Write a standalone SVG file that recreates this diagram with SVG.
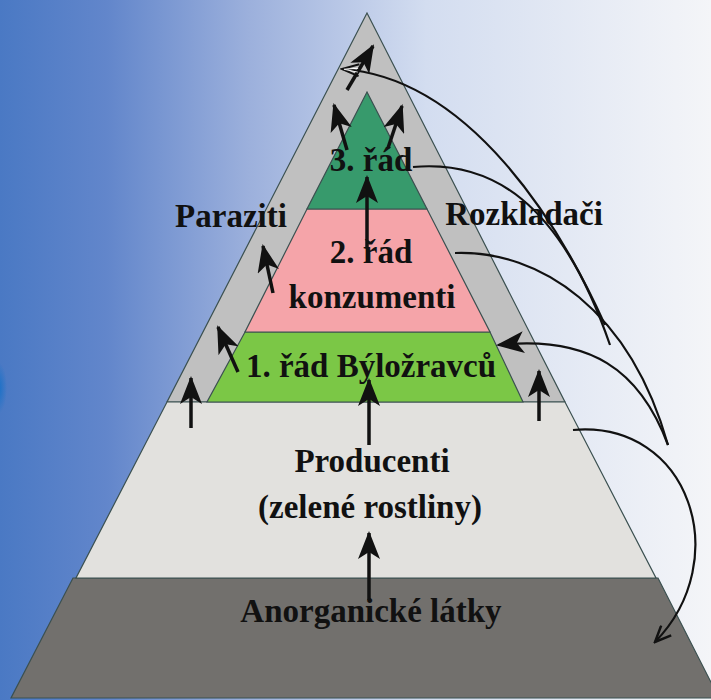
<svg xmlns="http://www.w3.org/2000/svg" width="711" height="700" viewBox="0 0 711 700">
<defs>
<linearGradient id="bg" x1="0" y1="0" x2="1" y2="0">
<stop offset="0" stop-color="#4a79c4"/>
<stop offset="0.15" stop-color="#6286cb"/>
<stop offset="0.35" stop-color="#9cb0dc"/>
<stop offset="0.6" stop-color="#d3ddf0"/>
<stop offset="1" stop-color="#f4f5f8"/>
</linearGradient>
<radialGradient id="spot" cx="0.5" cy="0.5" r="0.5">
<stop offset="0" stop-color="#1570c8"/>
<stop offset="1" stop-color="#1570c8" stop-opacity="0"/>
</radialGradient>
<marker id="ah" viewBox="0 0 28 22" refX="26" refY="11" markerWidth="28" markerHeight="22" markerUnits="userSpaceOnUse" orient="auto">
<path d="M0,0 L28,11 L0,22 L7,11 z" fill="#111"/>
</marker>
<marker id="open" viewBox="0 0 20 16" refX="18" refY="8" markerWidth="20" markerHeight="16" markerUnits="userSpaceOnUse" orient="auto">
<path d="M2,1 L18,8 L2,15" fill="none" stroke="#111" stroke-width="2.5"/>
</marker>
<marker id="apexhead" viewBox="0 0 20 14" refX="18" refY="7" markerWidth="20" markerHeight="14" markerUnits="userSpaceOnUse" orient="auto">
<path d="M1,1 L18,7 L1,13" fill="none" stroke="#111" stroke-width="2"/>
<path d="M2,5 L16,7 L2,9" fill="none" stroke="#fff" stroke-width="1"/>
</marker>
</defs>
<style>
.lbl{font-family:"Liberation Serif","Times New Roman",serif;font-weight:bold;font-size:33px;fill:#111;text-anchor:middle}
.edge{stroke:#3b5050;stroke-width:1.2}
.shaft{stroke:#111;stroke-width:3.5;fill:none}
.curve{stroke:#111;stroke-width:2.2;fill:none}
</style>
<rect x="0" y="0" width="711" height="700" fill="url(#bg)"/>
<ellipse cx="-2" cy="388" rx="9" ry="26" fill="url(#spot)"/>

<g id="outer-pyramid">
<polygon class="edge" points="367,13 167,402 565,402" fill="#c0c0c0"/>
</g>
<g id="anorganicke-latky">
<polygon class="edge" points="73,578 658,578 719,698 11,698" fill="#72706d"/>
<text class="lbl" x="371" y="622">Anorganické látky</text>
</g>
<g id="producenti">
<polygon class="edge" points="167,402 565,402 656,578 76,578" fill="#e2e1de"/>
<text class="lbl" x="372" y="472">Producenti</text>
<text class="lbl" x="370" y="518">(zelené rostliny)</text>
</g>
<g id="rad1">
<polygon class="edge" points="245,332 490,332 523,402 207,402" fill="#7bc746"/>
</g>
<g id="rad2">
<polygon class="edge" points="307,209 427,209 490,332 245,332" fill="#f5a4a9"/>
</g>
<g id="rad3">
<polygon class="edge" points="367,92 427,209 307,209" fill="#379a6c"/>
</g>
<g id="labels">
<text class="lbl" x="371" y="171">3. řád</text>
<text class="lbl" x="371" y="263">2. řád</text>
<text class="lbl" x="372" y="308">konzumenti</text>
<text class="lbl" x="371" y="377">1. řád Býložravců</text>
<text class="lbl" x="231" y="227">Paraziti</text>
<text class="lbl" x="524" y="225">Rozkladači</text>
</g>
<g id="connectors">
<line class="shaft" x1="369" y1="600" x2="369" y2="533" marker-end="url(#ah)"/>
<line class="shaft" x1="369" y1="445" x2="369" y2="380" marker-end="url(#ah)"/>
<line class="shaft" x1="367" y1="248" x2="367" y2="177" marker-end="url(#ah)"/>
<line class="shaft" x1="191" y1="428" x2="191" y2="378" marker-end="url(#ah)"/>
<line class="shaft" x1="539" y1="421" x2="539" y2="371" marker-end="url(#ah)"/>
<line class="shaft" x1="238" y1="372" x2="218" y2="327" marker-end="url(#ah)"/>
<line class="shaft" x1="273" y1="293" x2="263" y2="246" marker-end="url(#ah)"/>
<line class="shaft" x1="347" y1="150" x2="334" y2="105" marker-end="url(#ah)"/>
<line class="shaft" x1="388" y1="148" x2="402" y2="106" marker-end="url(#ah)"/>
<line class="shaft" x1="347" y1="90" x2="373" y2="46" marker-end="url(#ah)"/>
<path class="curve" d="M605,325 C560,225 470,78 342,69" marker-end="url(#apexhead)"/>
<path class="curve" d="M413,167 C490,160 560,200 610,345"/>
<path class="curve" d="M455,253 C540,250 630,310 668,445"/>
<path class="curve" d="M668,445 C640,370 590,335 498,345" marker-end="url(#ah)"/>
<path class="curve" d="M573,430 C690,420 735,560 655,642" marker-end="url(#open)"/>
</g>
</svg>
